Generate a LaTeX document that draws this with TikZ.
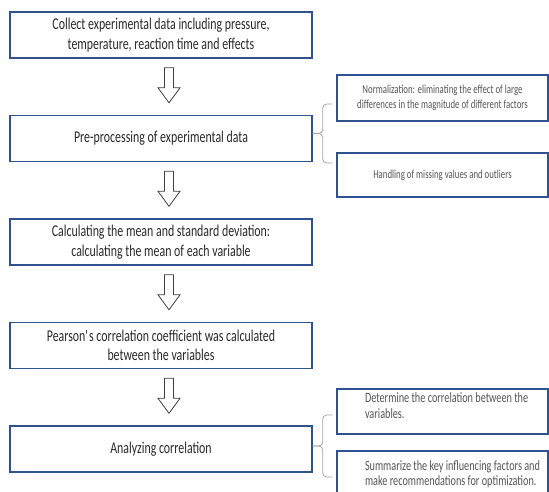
\documentclass[tikz,border=0pt]{standalone}
\usepackage{fontspec}
\setmainfont{Carlito}[FakeStretch=0.72]
\usetikzlibrary{calc}
\definecolor{boxblue}{RGB}{47,82,143}
\definecolor{steptext}{RGB}{40,40,40}
\definecolor{notetext}{RGB}{85,85,85}
\definecolor{bracegray}{RGB}{165,165,165}
\tikzset{
  stepbox/.style={draw=boxblue,line width=1.4pt,minimum width=302pt,minimum height=46pt,
    align=center,text=steptext,inner sep=0pt,font=\fontsize{16.5}{19.5}\selectfont},
  notebox/.style={draw=boxblue,line width=1.4pt,minimum width=211pt,
    text=notetext,font=\fontsize{12.2}{14.5}\selectfont},
  leftnote/.style={notebox,text width=195pt,inner xsep=8pt,align=flush left,
    font=\fontsize{14.2}{15.5}\selectfont},
  hollow/.style={draw=black!75,line width=0.8pt,fill=white,line join=miter},
  bracket/.style={draw=bracegray,line width=0.8pt}
}
\newcommand{\hollowarrow}[2]{%
  \path ([xshift=8pt,yshift=-9pt]#1.south) coordinate (atop)
        ([xshift=8pt,yshift=12pt]#2.north) coordinate (atip);
  \draw[hollow] ($(atop)+(-4.5,0)$) -- ($(atop)+(4.5,0)$) -- ($(atip)+(4.5,15)$)
    -- ($(atip)+(11,15)$) -- (atip) -- ($(atip)+(-11,15)$) -- ($(atip)+(-4.5,15)$) -- cycle;
}
\newcommand{\sidebrace}[3]{%
  \path ([yshift=#2]#1.east) coordinate (btip)
        ([xshift=20pt,yshift=#3]#1.east) coordinate (bup)
        ([xshift=20pt,yshift=#2-(#3-#2)]#1.east) coordinate (bdown);
  \draw[bracket,rounded corners=4pt] (bup) -- ++(-10pt,0) |- (btip);
  \draw[bracket,rounded corners=4pt] (bdown) -- ++(-10pt,0) |- (btip);
}

\begin{document}
\begin{tikzpicture}[x=1pt,y=1pt]
  \useasboundingbox (0,0) rectangle (549,-492);

  % main steps
  \node[stepbox] (collect) at (161,-35) {Collect experimental data including pressure,\\temperature, reaction time and effects};
  \node[stepbox] (prep) at (161,-138.5) {Pre-processing of experimental data};
  \node[stepbox] (meanstd) at (161,-242) {Calculating the mean and standard deviation:\\calculating the mean of each variable};
  \node[stepbox] (pearson) at (161,-345.5) {Pearson\textquotesingle s correlation coefficient was calculated\\between the variables};
  \node[stepbox] (analyze) at (161,-449) {Analyzing correlation};

  \hollowarrow{collect}{prep}
  \hollowarrow{prep}{meanstd}
  \hollowarrow{meanstd}{pearson}
  \hollowarrow{pearson}{analyze}

  % side notes
  \node[notebox,minimum height=46pt,align=center] (normal) at (442.5,-98) {Normalization: eliminating the effect of large\\differences in the magnitude of different factors};
  \node[notebox,minimum height=44pt,align=center] (missing) at (442.5,-175) {Handling of missing values and outliers};
  \node[leftnote,minimum height=45pt] (determine) at (442.5,-411.5)
    {\hspace*{20pt}Determine the correlation between the\\\hspace*{20pt}variables.\\[-4pt]\mbox{}};
  \node[leftnote,minimum height=46pt] (summarize) at (442.5,-474)
    {\hspace*{20pt}Summarize the key influencing factors and\\\hspace*{20pt}make recommendations for optimization.};

  \sidebrace{prep}{5pt}{34.5pt}
  \sidebrace{analyze}{3pt}{34pt}
\end{tikzpicture}
\end{document}
